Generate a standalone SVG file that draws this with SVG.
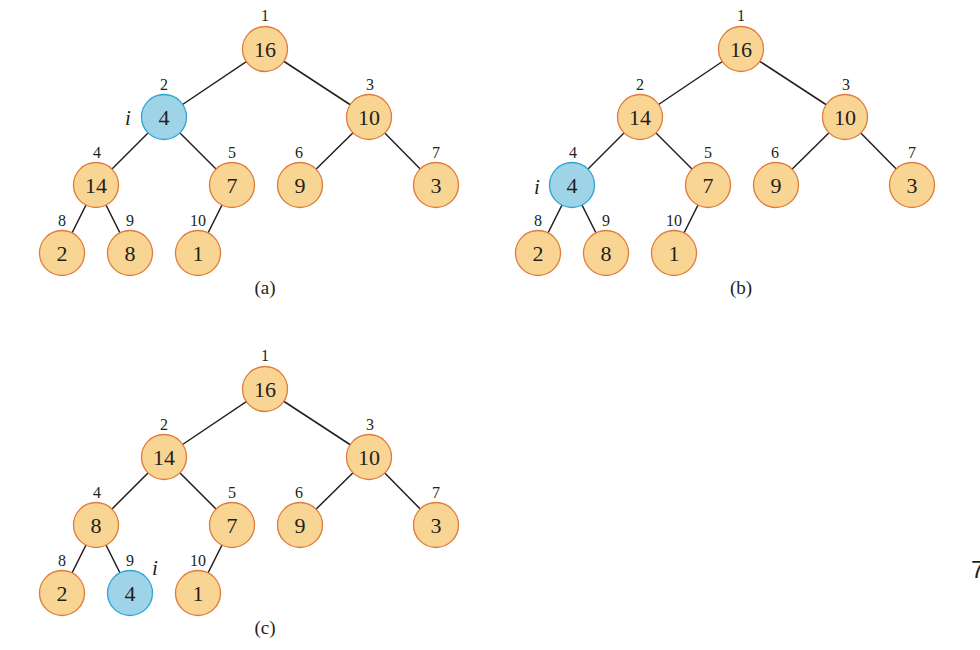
<svg xmlns="http://www.w3.org/2000/svg" width="980" height="650" viewBox="0 0 980 650">
<style>
.e{stroke:#231f20;stroke-width:1.5;fill:none}
.n circle{fill:#f9d594;stroke:#e07b3c;stroke-width:1.3}
.n.b circle{fill:#9fd3e8;stroke:#2ba6d8}
.v{font-family:"Liberation Serif",serif;font-size:22px;fill:#231f20;text-anchor:middle}
.ix{font-family:"Liberation Serif",serif;font-size:16px;fill:#231f20;text-anchor:middle}
.it{font-family:"Liberation Serif",serif;font-size:21px;font-style:italic;fill:#231f20;text-anchor:middle}
.cap{font-family:"Liberation Serif",serif;font-size:19px;fill:#231f20;text-anchor:middle}
</style>
<rect width="980" height="650" fill="#fff"/>
<g id="connectors">
<g id="edges-a">
<line class="e" x1="265" y1="49" x2="164" y2="117"/>
<line class="e" x1="265" y1="49" x2="369" y2="117"/>
<line class="e" x1="164" y1="117" x2="96" y2="185"/>
<line class="e" x1="164" y1="117" x2="232" y2="185"/>
<line class="e" x1="369" y1="117" x2="300" y2="185"/>
<line class="e" x1="369" y1="117" x2="436" y2="185"/>
<line class="e" x1="96" y1="185" x2="62" y2="253"/>
<line class="e" x1="96" y1="185" x2="130" y2="253"/>
<line class="e" x1="232" y1="185" x2="198" y2="253"/>
</g>
<g id="edges-b" transform="translate(476,0)">
<line class="e" x1="265" y1="49" x2="164" y2="117"/>
<line class="e" x1="265" y1="49" x2="369" y2="117"/>
<line class="e" x1="164" y1="117" x2="96" y2="185"/>
<line class="e" x1="164" y1="117" x2="232" y2="185"/>
<line class="e" x1="369" y1="117" x2="300" y2="185"/>
<line class="e" x1="369" y1="117" x2="436" y2="185"/>
<line class="e" x1="96" y1="185" x2="62" y2="253"/>
<line class="e" x1="96" y1="185" x2="130" y2="253"/>
<line class="e" x1="232" y1="185" x2="198" y2="253"/>
</g>
<g id="edges-c" transform="translate(0,340)">
<line class="e" x1="265" y1="49" x2="164" y2="117"/>
<line class="e" x1="265" y1="49" x2="369" y2="117"/>
<line class="e" x1="164" y1="117" x2="96" y2="185"/>
<line class="e" x1="164" y1="117" x2="232" y2="185"/>
<line class="e" x1="369" y1="117" x2="300" y2="185"/>
<line class="e" x1="369" y1="117" x2="436" y2="185"/>
<line class="e" x1="96" y1="185" x2="62" y2="253"/>
<line class="e" x1="96" y1="185" x2="130" y2="253"/>
<line class="e" x1="232" y1="185" x2="198" y2="253"/>
</g>
</g>

<g id="tree-a">
<g id="a1" class="n"><circle cx="265" cy="49" r="22.5"/><text class="v" x="265" y="57">16</text><text class="ix" x="265" y="21">1</text></g>
<g id="a2" class="n b"><circle cx="164" cy="117" r="22.5"/><text class="v" x="164" y="125">4</text><text class="ix" x="164" y="90">2</text><text class="it" x="128" y="125">i</text></g>
<g id="a3" class="n"><circle cx="369" cy="117" r="22.5"/><text class="v" x="369" y="125">10</text><text class="ix" x="370" y="90">3</text></g>
<g id="a4" class="n"><circle cx="96" cy="185" r="22.5"/><text class="v" x="96" y="193">14</text><text class="ix" x="97" y="158">4</text></g>
<g id="a5" class="n"><circle cx="232" cy="185" r="22.5"/><text class="v" x="232" y="193">7</text><text class="ix" x="232" y="158">5</text></g>
<g id="a6" class="n"><circle cx="300" cy="185" r="22.5"/><text class="v" x="300" y="193">9</text><text class="ix" x="299" y="158">6</text></g>
<g id="a7" class="n"><circle cx="436" cy="185" r="22.5"/><text class="v" x="436" y="193">3</text><text class="ix" x="436" y="158">7</text></g>
<g id="a8" class="n"><circle cx="62" cy="253" r="22.5"/><text class="v" x="62" y="261">2</text><text class="ix" x="62" y="226">8</text></g>
<g id="a9" class="n"><circle cx="130" cy="253" r="22.5"/><text class="v" x="130" y="261">8</text><text class="ix" x="130" y="226">9</text></g>
<g id="a10" class="n"><circle cx="198" cy="253" r="22.5"/><text class="v" x="198" y="261">1</text><text class="ix" x="198" y="226">10</text></g>
<text class="cap" x="265" y="294">(a)</text>
</g>

<g id="tree-b" transform="translate(476,0)">
<g id="b1" class="n"><circle cx="265" cy="49" r="22.5"/><text class="v" x="265" y="57">16</text><text class="ix" x="265" y="21">1</text></g>
<g id="b2" class="n"><circle cx="164" cy="117" r="22.5"/><text class="v" x="164" y="125">14</text><text class="ix" x="164" y="90">2</text></g>
<g id="b3" class="n"><circle cx="369" cy="117" r="22.5"/><text class="v" x="369" y="125">10</text><text class="ix" x="370" y="90">3</text></g>
<g id="b4" class="n b"><circle cx="96" cy="185" r="22.5"/><text class="v" x="96" y="193">4</text><text class="ix" x="97" y="158">4</text><text class="it" x="61" y="194">i</text></g>
<g id="b5" class="n"><circle cx="232" cy="185" r="22.5"/><text class="v" x="232" y="193">7</text><text class="ix" x="232" y="158">5</text></g>
<g id="b6" class="n"><circle cx="300" cy="185" r="22.5"/><text class="v" x="300" y="193">9</text><text class="ix" x="299" y="158">6</text></g>
<g id="b7" class="n"><circle cx="436" cy="185" r="22.5"/><text class="v" x="436" y="193">3</text><text class="ix" x="436" y="158">7</text></g>
<g id="b8" class="n"><circle cx="62" cy="253" r="22.5"/><text class="v" x="62" y="261">2</text><text class="ix" x="62" y="226">8</text></g>
<g id="b9" class="n"><circle cx="130" cy="253" r="22.5"/><text class="v" x="130" y="261">8</text><text class="ix" x="130" y="226">9</text></g>
<g id="b10" class="n"><circle cx="198" cy="253" r="22.5"/><text class="v" x="198" y="261">1</text><text class="ix" x="198" y="226">10</text></g>
<text class="cap" x="265" y="294">(b)</text>
</g>

<g id="tree-c" transform="translate(0,340)">
<g id="c1" class="n"><circle cx="265" cy="49" r="22.5"/><text class="v" x="265" y="57">16</text><text class="ix" x="265" y="21">1</text></g>
<g id="c2" class="n"><circle cx="164" cy="117" r="22.5"/><text class="v" x="164" y="125">14</text><text class="ix" x="164" y="90">2</text></g>
<g id="c3" class="n"><circle cx="369" cy="117" r="22.5"/><text class="v" x="369" y="125">10</text><text class="ix" x="370" y="90">3</text></g>
<g id="c4" class="n"><circle cx="96" cy="185" r="22.5"/><text class="v" x="96" y="193">8</text><text class="ix" x="97" y="158">4</text></g>
<g id="c5" class="n"><circle cx="232" cy="185" r="22.5"/><text class="v" x="232" y="193">7</text><text class="ix" x="232" y="158">5</text></g>
<g id="c6" class="n"><circle cx="300" cy="185" r="22.5"/><text class="v" x="300" y="193">9</text><text class="ix" x="299" y="158">6</text></g>
<g id="c7" class="n"><circle cx="436" cy="185" r="22.5"/><text class="v" x="436" y="193">3</text><text class="ix" x="436" y="158">7</text></g>
<g id="c8" class="n"><circle cx="62" cy="253" r="22.5"/><text class="v" x="62" y="261">2</text><text class="ix" x="62" y="226">8</text></g>
<g id="c9" class="n b"><circle cx="130" cy="253" r="22.5"/><text class="v" x="130" y="261">4</text><text class="ix" x="130" y="226">9</text><text class="it" x="155" y="235">i</text></g>
<g id="c10" class="n"><circle cx="198" cy="253" r="22.5"/><text class="v" x="198" y="261">1</text><text class="ix" x="198" y="226">10</text></g>
<text class="cap" x="265" y="294">(c)</text>
</g>

<text x="971" y="578" font-family="'Liberation Sans',sans-serif" font-size="24" fill="#231f20">7</text>
</svg>
